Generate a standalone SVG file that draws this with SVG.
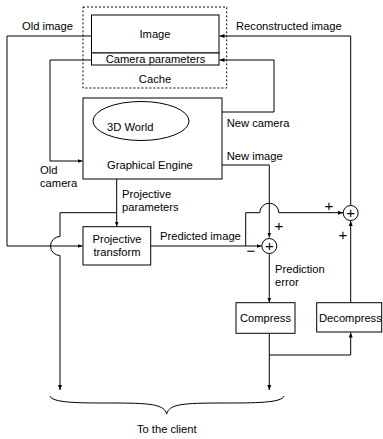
<svg xmlns="http://www.w3.org/2000/svg" width="383" height="439" viewBox="0 0 383 439">
<style>
text{font-family:"Liberation Sans",Arial,sans-serif;font-size:11.2px;fill:#000}
.c{text-anchor:middle}
.box{fill:#fff;stroke:#000;stroke-width:1}
.ln{fill:none;stroke:#000;stroke-width:1}
.sym{font-size:15px;text-anchor:middle}
</style>
<defs>
<marker id="ar" markerWidth="6" markerHeight="6" refX="5" refY="3" orient="auto" markerUnits="userSpaceOnUse">
<path d="M0,1 L5,3 L0,5 z" fill="#000"/>
</marker>
</defs>
<rect x="0" y="0" width="383" height="439" fill="#fff"/>

<g id="connectors" class="ln">
<path d="M91.5,36 H7 V246 H82.5" marker-end="url(#ar)"/>
<path d="M91.5,60 H50 V161 H82.5" marker-end="url(#ar)"/>
<path d="M350.7,205.5 V36 H219.5" marker-end="url(#ar)"/>
<path d="M222,112 H274 V60 H219.5" marker-end="url(#ar)"/>
<path d="M222,165 H269.3 V237.5" marker-end="url(#ar)"/>
<path d="M116.7,179 V226.5" marker-end="url(#ar)"/>
<path d="M116.7,212.7 H60 V236.5 A9.5,9.5 0 0 0 60,255.5 V390" marker-end="url(#ar)"/>
<path d="M150.7,246 H261.5" marker-end="url(#ar)"/>
<path d="M245.7,246 V212.7 H259.8 A9.5,9.5 0 0 1 278.8,212.7 H343" marker-end="url(#ar)"/>
<path d="M269.3,253.5 V302.5" marker-end="url(#ar)"/>
<path d="M269.3,333.3 V390" marker-end="url(#ar)"/>
<path d="M269.3,355 H350.7 V332.5" marker-end="url(#ar)"/>
<path d="M350.7,302.7 V221" marker-end="url(#ar)"/>
<path d="M50,396 C52,403 80,403 110,403 C150,403 164,404 166.7,414 C169,404 183,403 223,403 C254,403 282,403 284,396"/>
</g>

<g id="cache">
<rect x="83" y="7" width="143.7" height="81" fill="none" stroke="#000" stroke-width="1" stroke-dasharray="2,2"/>
<text class="c" x="155" y="83">Cache</text>
</g>
<g id="image">
<rect class="box" x="91.5" y="15" width="127.5" height="38"/>
<text class="c" x="155" y="38">Image</text>
</g>
<g id="camera-parameters">
<rect class="box" x="91.5" y="53" width="127.5" height="12"/>
<text class="c" x="155.5" y="63">Camera parameters</text>
</g>
<g id="graphical-engine">
<rect class="box" x="83" y="98" width="139" height="81"/>
<ellipse cx="141" cy="121" rx="48" ry="19.5" fill="none" stroke="#000" stroke-width="1"/>
<text x="107" y="131">3D World</text>
<text x="107" y="169">Graphical Engine</text>
</g>
<g id="projective-transform">
<rect class="box" x="83" y="226.7" width="67.7" height="38.3"/>
<text class="c" x="117" y="243">Projective</text>
<text class="c" x="117" y="256">transform</text>
</g>
<g id="sum-lower">
<circle cx="269.3" cy="246" r="7.5" fill="#fff" stroke="#000" stroke-width="1"/>
<text class="sym" x="269.3" y="251.3">+</text>
</g>
<g id="sum-upper">
<circle cx="350.7" cy="213" r="7.5" fill="#fff" stroke="#000" stroke-width="1"/>
<text class="sym" x="350.7" y="218.3">+</text>
</g>
<g id="compress">
<rect class="box" x="236" y="302.7" width="59" height="30.6"/>
<text class="c" x="265.5" y="322">Compress</text>
</g>
<g id="decompress">
<rect class="box" x="316.7" y="302.7" width="65" height="29.3"/>
<text x="319" y="322">Decompress</text>
</g>

<g id="labels">
<text x="22" y="30">Old image</text>
<text x="236" y="30">Reconstructed image</text>
<text x="226.7" y="127">New camera</text>
<text x="226.7" y="159.5">New image</text>
<text x="40" y="174">Old</text>
<text x="40" y="187">camera</text>
<text x="122" y="198">Projective</text>
<text x="122" y="210.5">parameters</text>
<text x="160" y="240">Predicted image</text>
<text x="275" y="273">Prediction</text>
<text x="275" y="286">error</text>
<text class="c" x="166.8" y="433">To the client</text>
<text class="sym" x="329" y="211">+</text>
<text class="sym" x="279" y="231">+</text>
<text class="sym" x="343" y="240">+</text>
<text class="sym" x="251" y="256">−</text>
</g>
</svg>
